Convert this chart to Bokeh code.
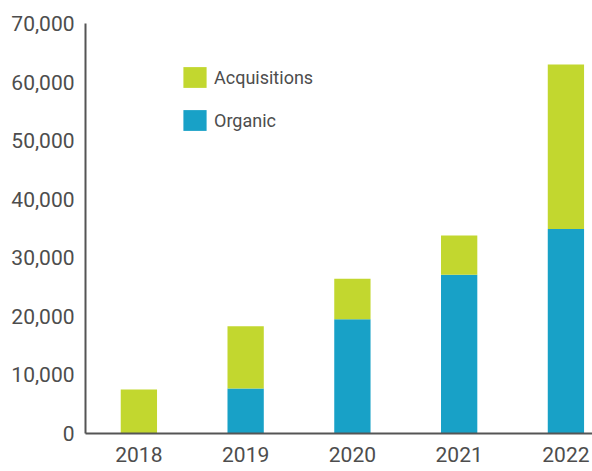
from bokeh.plotting import figure
from bokeh.models import (Range1d, FixedTicker, NumeralTickFormatter, Legend,
                          LegendItem, ColumnDataSource)
from bokeh.embed import file_html
from bokeh.resources import INLINE

years = ["2018", "2019", "2020", "2021", "2022"]
organic = [0, 7700, 19500, 27100, 34900]
acquisitions = [7500, 10600, 6900, 6700, 28100]
y_ticks = [0, 10000, 20000, 30000, 40000, 50000, 60000, 70000]
series = ["organic", "acquisitions"]
series_labels = ["Organic", "Acquisitions"]
colors = ["#18A1C7", "#C2D72F"]

FONT = "Roboto"
TXT = "#4d4d4d"
AX = "#555555"

x = list(range(len(years)))
source = ColumnDataSource(dict(x=x, organic=organic, acquisitions=acquisitions))

p = figure(frame_width=507, frame_height=410,
           x_range=Range1d(-0.5, 4.249), y_range=Range1d(0, 70000),
           output_backend="svg", toolbar_location=None,
           min_border_left=85, min_border_top=23, min_border_right=0,
           min_border_bottom=38)

rs = p.vbar_stack(series, x="x", width=0.34, color=colors, line_color=None,
                  source=source)

p.xgrid.visible = False
p.ygrid.visible = False
p.outline_line_color = None
p.background_fill_color = "white"
p.border_fill_color = "white"

p.xaxis.ticker = FixedTicker(ticks=x)
p.xaxis.major_label_overrides = {i: yr for i, yr in enumerate(years)}
p.yaxis.ticker = FixedTicker(ticks=y_ticks)
p.yaxis.formatter = NumeralTickFormatter(format="0,0")

for ax in (p.xaxis[0], p.yaxis[0]):
    ax.axis_line_color = AX
    ax.axis_line_width = 2
    ax.major_tick_line_color = None
    ax.minor_tick_line_color = None
    ax.major_tick_out = 0
    ax.major_tick_in = 0
    ax.minor_tick_out = 0
    ax.major_label_text_font = FONT
    ax.major_label_text_font_size = "21px"
    ax.major_label_text_color = TXT

p.yaxis.major_label_standoff = 11
p.xaxis.major_label_standoff = 13

legend = Legend(items=[LegendItem(label=series_labels[1], renderers=[rs[1]]),
                       LegendItem(label=series_labels[0], renderers=[rs[0]])],
                location=(95, 300), padding=0, margin=0, spacing=17,
                glyph_width=29, glyph_height=26, label_height=26,
                label_standoff=5, label_text_font=FONT,
                label_text_font_size="18px", label_text_color=TXT,
                border_line_color=None, background_fill_alpha=0)
p.add_layout(legend)

open("out.html", "w").write(file_html(p, INLINE))
